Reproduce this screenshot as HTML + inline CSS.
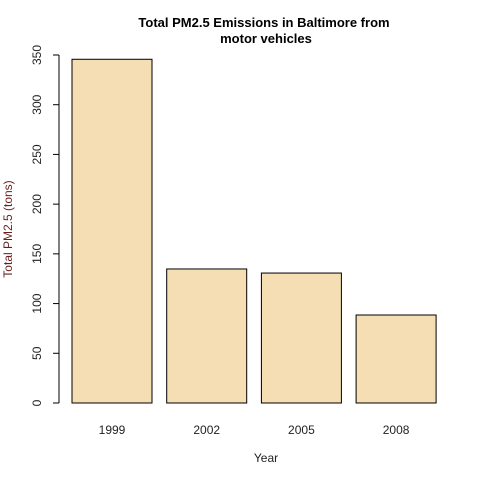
<!DOCTYPE html>
<html><head><meta charset="utf-8"><style>
body{margin:0;background:#fff;}
svg{display:block;font-family:"Liberation Sans",Arial,sans-serif;}
</style></head><body>
<svg id="chart" width="480" height="480" viewBox="0 0 480 480">
<rect width="480" height="480" fill="#fff"/>
<text x="266" y="82" text-anchor="middle" font-size="13" font-weight="bold"><tspan x="264" y="27">Total PM2.5 Emissions in Baltimore from</tspan><tspan x="266" y="43">motor vehicles</tspan></text>
<text x="266" y="462" text-anchor="middle" font-size="12" fill="#222">Year</text>
<text transform="translate(12,229) rotate(-90)" text-anchor="middle" font-size="12" fill="#6b1d1d">Total PM2.5 (tons)</text>
<g id="yaxis"></g>
<g id="bars"></g>
</svg>
<script>
const categories = ["1999","2002","2005","2008"];
const values = [345.7, 134.8, 130.7, 88.5];
const yTicks = [0,50,100,150,200,250,300,350];
const NS="http://www.w3.org/2000/svg";
function y(v){return 403 - v*(348/350);}
function xBar(i){return 72 + i*94.7;}
const barW=80;
const ya=document.getElementById('yaxis'), bg=document.getElementById('bars');
function mk(tag,attrs,parent){const e=document.createElementNS(NS,tag);for(const k in attrs)e.setAttribute(k,attrs[k]);parent.appendChild(e);return e;}
const axl=mk('line',{x1:59,x2:59,y1:y(0),y2:y(350),stroke:'#000'},ya);


yTicks.forEach(t=>{
  const l=mk('line',{x1:53,x2:59,y1:y(t),y2:y(t),stroke:'#000'},ya);
  
  
  const tx=mk('text',{transform:`translate(41,${y(t)}) rotate(-90)`,'text-anchor':'middle','font-size':'12',fill:'#222'},ya);
  tx.textContent=t;
  
  
});
categories.forEach((c,i)=>{
  const r=mk('rect',{x:xBar(i),y:y(values[i]),width:barW,height:y(0)-y(values[i]),fill:'#f5deb3',stroke:'#000','stroke-width':1},bg);
  
  
  const t=mk('text',{x:xBar(i)+barW/2,y:434,'text-anchor':'middle','font-size':'12',fill:'#222'},bg);
  t.textContent=c;
  
  
});
</script>
</body></html>
